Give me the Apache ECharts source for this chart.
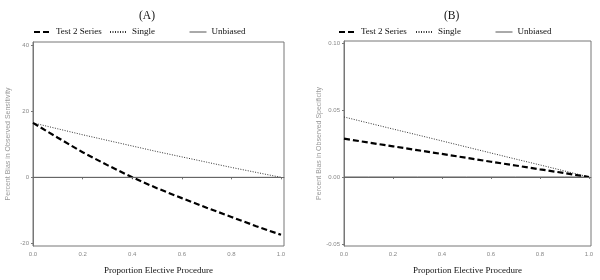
<!DOCTYPE html>
<html>
<head>
<meta charset="utf-8">
<script src="https://cdn.jsdelivr.net/npm/echarts@6/dist/echarts.min.js"></script>
<style>
    html, body { margin: 0; padding: 0; background: #fff; }
    #chart { width: 600px; height: 280px; }
</style>
</head>
<body>
<div id="chart"></div>
<script>
    // proportion of elective procedures (x)
    const proportion = [0, 0.1, 0.2, 0.3, 0.4, 0.5, 0.6, 0.7, 0.8, 0.9, 1.0];

    // Panel A: percent bias in observed sensitivity
    const sensTest2 = [16.5, 12.0, 7.6, 3.7, 0, -3.3, -6.3, -9.2, -12.0, -14.8, -17.4];
    const sensSingle = [16.5, 14.7, 12.9, 11.2, 9.5, 7.8, 6.2, 4.6, 3.0, 1.5, 0];

    // Panel B: percent bias in observed specificity
    const specTest2 = [0.0286, 0.0257, 0.0229, 0.0200, 0.0172, 0.0143, 0.0114, 0.0086, 0.0057, 0.0029, 0];
    const specSingle = [0.0448, 0.0403, 0.0358, 0.0314, 0.0269, 0.0224, 0.0179, 0.0134, 0.0090, 0.0045, 0];

    // no bias reference
    const unbiased = [0, 0, 0, 0, 0, 0, 0, 0, 0, 0, 0];

    const seriesNames = ['Test 2 Series', 'Single', 'Unbiased'];
    const xTicks = [0, 0.2, 0.4, 0.6, 0.8, 1.0];
    const sensTicks = [-20, 0, 20, 40];
    const specTicks = [-0.05, 0, 0.05, 0.10];

    const serif = '"Liberation Serif", "DejaVu Serif", serif';
    const sans = '"Liberation Sans", "DejaVu Sans", sans-serif';

    function pairs(xs, ys) {
        return xs.map((x, i) => [x, ys[i]]);
    }

    function xAxisFor(gridIndex, max) {
        return {
            type: 'value',
            gridIndex: gridIndex,
            min: 0,
            max: max,
            name: 'Proportion Elective Procedure',
            nameLocation: 'middle',
            nameGap: 20,
            nameTextStyle: { fontFamily: serif, fontSize: 9, color: '#111' },
            axisLine: { show: true, lineStyle: { color: '#777', width: 1 } },
            axisTick: { show: true, length: 2, customValues: xTicks, lineStyle: { color: '#777' } },
            axisLabel: {
                customValues: xTicks,
                fontFamily: sans, fontSize: 6, color: '#888', margin: 5,
                formatter: v => v.toFixed(1)
            },
            splitLine: { show: false }
        };
    }

    function yAxisFor(gridIndex, min, max, ticks, name, fmt) {
        return {
            type: 'value',
            gridIndex: gridIndex,
            min: min,
            max: max,
            name: name,
            nameLocation: 'middle',
            nameGap: 21,
            nameTextStyle: { fontFamily: sans, fontSize: 7, color: '#999' },
            axisLine: { show: true, lineStyle: { color: '#777', width: 1 } },
            axisTick: { show: true, length: 2, customValues: ticks, lineStyle: { color: '#777' } },
            axisLabel: {
                customValues: ticks,
                fontFamily: sans, fontSize: 6, color: '#888', margin: 4,
                formatter: fmt
            },
            splitLine: { show: false }
        };
    }

    function seriesFor(idx, test2, single) {
        return [
            {
                name: seriesNames[2],
                type: 'line',
                xAxisIndex: idx, yAxisIndex: idx,
                symbol: 'none',
                lineStyle: { color: '#666', width: 1, type: 'solid' },
                itemStyle: { color: '#666' },
                data: pairs(proportion, unbiased),
                markLine: {
                    silent: true,
                    symbol: 'none',
                    label: { show: false },
                    lineStyle: { color: '#666', width: 1, type: 'solid' },
                    data: [{ yAxis: 0 }]
                }
            },
            {
                name: seriesNames[1],
                type: 'line',
                xAxisIndex: idx, yAxisIndex: idx,
                symbol: 'none',
                lineStyle: { color: '#333', width: 1, type: [1, 1.5] },
                itemStyle: { color: '#333' },
                data: pairs(proportion, single)
            },
            {
                name: seriesNames[0],
                type: 'line',
                xAxisIndex: idx, yAxisIndex: idx,
                symbol: 'none',
                lineStyle: { color: '#000', width: 2.2, type: [6, 3] },
                itemStyle: { color: '#000' },
                data: pairs(proportion, test2)
            }
        ];
    }

    // one legend per item so the spacing can follow the reference
    function legendFor(left, name) {
        return {
            left: left,
            top: 27.5,
            padding: 0,
            itemWidth: 17,
            itemHeight: 8,
            itemGap: 4,
            selectedMode: false,
            itemStyle: { opacity: 0 },
            lineStyle: name === 'Unbiased' ? { width: 1, color: '#555' } : {},
            textStyle: { fontFamily: serif, fontSize: 9, color: '#111' },
            data: [name]
        };
    }

    document.addEventListener('DOMContentLoaded', function () {
        const chart = echarts.init(document.getElementById('chart'));
        const legendLefts = [[33, 109, 189], [338, 415, 495]];
        const legends = [];
        legendLefts.forEach(lefts => {
            lefts.forEach((l, i) => legends.push(legendFor(l, seriesNames[i])));
        });
        const option = {
            animation: false,
            backgroundColor: '#fff',
            title: [
                { text: '(A)', left: 134, top: 5, textStyle: { fontFamily: serif, fontSize: 11.5, fontWeight: 'normal', color: '#111' } },
                { text: '(B)', left: 439, top: 5, textStyle: { fontFamily: serif, fontSize: 11.5, fontWeight: 'normal', color: '#111' } }
            ],
            legend: legends,
            grid: [
                { left: 33, top: 42, width: 251, height: 207, show: true, borderColor: '#777', borderWidth: 1, backgroundColor: 'transparent' },
                { left: 344, top: 41, width: 247, height: 208, show: true, borderColor: '#777', borderWidth: 1, backgroundColor: 'transparent' }
            ],
            xAxis: [xAxisFor(0, 1.012), xAxisFor(1, 1.008)],
            yAxis: [
                yAxisFor(0, -20.8, 41, sensTicks, 'Percent Bias in Observed Sensitivity', v => String(v)),
                yAxisFor(1, -0.0515, 0.1015, specTicks, 'Percent Bias in Observed Specificity', v => v.toFixed(2))
            ],
            series: seriesFor(0, sensTest2, sensSingle).concat(seriesFor(1, specTest2, specSingle))
        };
        chart.setOption(option);
    });
</script>
</body>
</html>
